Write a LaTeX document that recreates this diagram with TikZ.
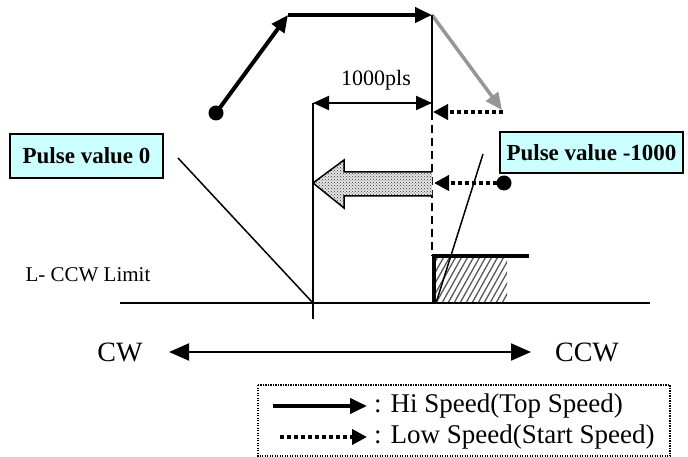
\documentclass[tikz,border=0pt]{standalone}
\usepackage{fontspec}
\setmainfont{Liberation Serif}
\usetikzlibrary{arrows.meta,patterns}
\definecolor{boxcyan}{RGB}{204,255,255}
\definecolor{midgray}{RGB}{150,150,150}

\begin{document}
\begin{tikzpicture}[x=1pt,y=-1pt,
  hi/.style={line width=4pt,-{Triangle[length=17pt,width=15pt]}},
  lo/.style={line width=4pt,dash pattern=on 4pt off 3pt,-{Triangle[length=15pt,width=15pt]}},
  pulsebox/.style={draw,line width=1.5pt,fill=boxcyan,inner sep=0pt,font=\fontsize{23}{26}\selectfont\bfseries},
  thin/.style={line width=1.5pt}]
  \useasboundingbox (0,0) rectangle (688,457);
  \coordinate (start) at (216,113); \coordinate (top1) at (288,15); \coordinate (top2) at (432,15);
  \coordinate (down) at (502,110); \coordinate (lowend) at (503,112); \coordinate (lowtip) at (433,112);
  \coordinate (zero) at (313,303); \coordinate (home) at (434,303); \coordinate (seek) at (504,183);
  % moving path
  \draw[hi] (start) -- (top1);
  \draw[hi] (top1) -- (top2);
  \draw[line width=3.5pt,midgray,-{Triangle[length=17pt,width=15pt]}] (top2) -- (down);
  \draw[lo] (lowend) -- (lowtip);
  \fill (start) circle (7.5); \fill (seek) circle (7.5);
  % marks at 0 and -1000
  \draw[line width=2pt] (top2) -- (432,112);
  \draw[line width=2pt,dash pattern=on 8pt off 5pt] (432,112) -- (432,256);
  \draw[thin] (313,103) -- (313,319);
  \draw[line width=2pt,{Triangle[length=16pt,width=14pt]}-{Triangle[length=16pt,width=14pt]}] (313,103) -- (432,103);
  \node[font=\fontsize{22}{24}\selectfont] (pls) at (376,80) {1000pls};
  % return arrow
  \fill[gray!20] (432,172) -- (344,172) -- (344,160) -- (313,183) -- (344,208) -- (344,196) -- (432,196) -- cycle;
  \fill[pattern=crosshatch dots,pattern color=black!80] (432,172) -- (344,172) -- (344,160) -- (313,183) -- (344,208) -- (344,196) -- (432,196) -- cycle;
  \draw[thin,line join=miter] (432,172) -- (344,172) -- (344,160) -- (313,183) -- (344,208) -- (344,196) -- (432,196);
  \draw[lo] (seek) -- (434,183);
  % limit switch
  \begin{scope}
    \clip (434,256) rectangle (507,303);
    \foreach \i in {400,406,...,520} \draw[line width=1.3pt,black!65] (\i,303) -- ++(28,-50);
  \end{scope}
  \draw[line width=4pt] (home) -- (434,256) -- (529,256);
  \draw[thin] (120,303) -- (650,303);
  \node[pulsebox,minimum width=153,minimum height=44] (p0) at (86.5,156) {Pulse value 0};
  \node[pulsebox,minimum width=183,minimum height=41] (p1) at (591.5,152.5) {Pulse value -1000};
  \draw[thin] (178,158) -- (zero);
  \draw[thin] (483,154) -- (436,303);
  \node[anchor=west,font=\fontsize{21}{23}\selectfont] (lim) at (22,275) {L- CCW Limit};
  % direction
  \node[font=\fontsize{28}{30}\selectfont] (cw) at (120,352) {CW};
  \node[font=\fontsize{28}{30}\selectfont] (ccw) at (587,352) {CCW};
  \draw[line width=2pt,{Triangle[length=20pt,width=17pt]}-{Triangle[length=20pt,width=17pt]}] (169,352) -- (531,352);
  % legend
  \draw[line width=1.3pt,dash pattern=on 1.3pt off 1.2pt] (258,385) rectangle (670,456);
  \draw[hi] (273,406) -- (367,406);
  \draw[lo] (280,437) -- (367,437);
  \foreach \y/\lab/\nm in {406/Hi Speed(Top Speed)/hit,437/Low Speed(Start Speed)/lot}
    \node[anchor=west,font=\fontsize{27}{29}\selectfont,inner sep=0pt] (\nm) at (374,\y) {: \lab};
\end{tikzpicture}
\end{document}
